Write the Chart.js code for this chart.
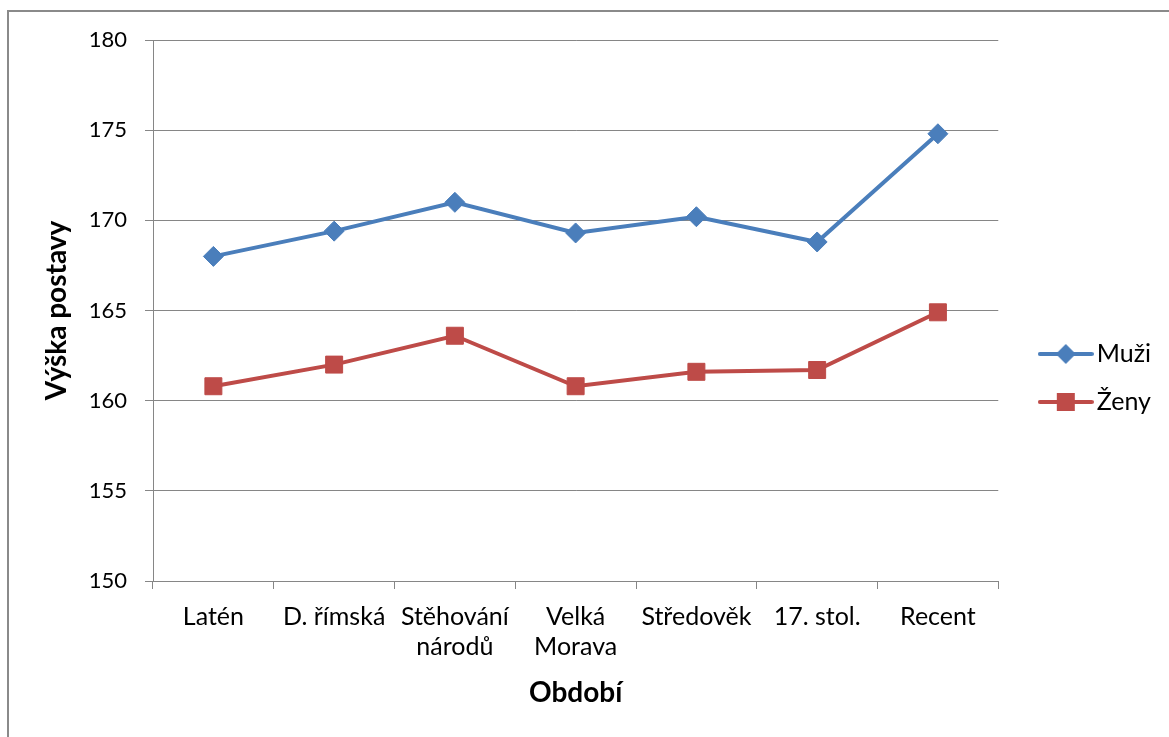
<!DOCTYPE html>
<html>
<head>
<meta charset="utf-8">
<script src="https://cdn.jsdelivr.net/npm/chart.js@4"></script>
<style>
  html, body { margin: 0; padding: 0; background: #fff; overflow: hidden; }
  #frame { position: absolute; left: 7px; top: 10px; width: 1300px; height: 900px;
           border-left: 2px solid #8a8a8a; border-top: 2px solid #8a8a8a; }
  #wrap { position: absolute; left: 0; top: 0; width: 1169px; height: 737px; }
</style>
</head>
<body>
<div id="frame"></div>
<div id="wrap"><canvas id="chart"></canvas></div>
<script>
// Data.
const obdobi = ["Latén", "D. římská", ["Stěhování", "národů"], ["Velká", "Morava"], "Středověk", "17. stol.", "Recent"];
const muzi = [168.0, 169.4, 171.0, 169.3, 170.2, 168.8, 174.8];
const zeny = [160.8, 162.0, 163.6, 160.8, 161.6, 161.7, 164.9];
const yTicks = [150, 155, 160, 165, 170, 175, 180];

const BLUE = '#4A7EBB';
const RED = '#BE4B48';
const GRID = '#868686';
const FONT = 'Lato, "Liberation Sans", sans-serif';

// small legend symbol: line with the marker on it
function legendSymbol(color, style){
    let c = document.createElement('canvas');
    c.width = 56; c.height = 24;
    let ctx = c.getContext('2d');
    ctx.strokeStyle = color;
    ctx.fillStyle = color;
    ctx.lineWidth = 4;
    ctx.lineCap = 'round';
    ctx.beginPath();
    ctx.moveTo(2, 12); ctx.lineTo(54, 12);
    ctx.stroke();
    ctx.beginPath();
    if (style === 'diamond') {
        ctx.moveTo(28, 2); ctx.lineTo(38, 12); ctx.lineTo(28, 22); ctx.lineTo(18, 12);
    } else {
        ctx.rect(19, 3, 18, 18);
    }
    ctx.closePath();
    ctx.fill();
    return c;
}
const symbols = [legendSymbol(BLUE, 'diamond'), legendSymbol(RED, 'square')];

let chart = new Chart(document.getElementById('chart'), {
    type: 'line',
    data: {
        labels: obdobi,
        datasets: [
            {label: "Muži",
            data: muzi,
            borderColor: BLUE,
            backgroundColor: BLUE,
            borderWidth: 4,
            pointStyle: 'rectRot',
            pointRadius: 10,
            pointHoverRadius: 10,
            pointBorderWidth: 1,
            tension: 0,
        },
            {label: "Ženy",
            data: zeny,
            borderColor: RED,
            backgroundColor: RED,
            borderWidth: 4,
            pointStyle: 'rect',
            pointRadius: 12,
            pointHoverRadius: 12,
            pointBorderWidth: 1,
            tension: 0,
        }]
    },
    options: {
        responsive: true,
        maintainAspectRatio: false,
        animation: false,
        events: [],
        layout: {padding: {left: 43, top: 40, right: 8, bottom: 21}},
        scales: {
            x: {
                offset: true,
                grid: {offset: true, drawOnChartArea: false, drawTicks: true, tickLength: 8, color: GRID},
                border: {color: GRID, width: 1},
                ticks: {color: '#000', font: {family: FONT, size: 25, lineHeight: 1.2}, padding: 13, maxRotation: 0, autoSkip: false},
                title: {display: true, text: 'Období', color: '#000', font: {family: FONT, size: 28, weight: 'bold', lineHeight: 1}, padding: {top: 0, bottom: 9}},
                afterFit: (s) => { s.height = 737 - 581 - 21; }
            },
            y: {
                min: 150,
                max: 180,
                afterBuildTicks: (s) => { s.ticks = yTicks.map(v => ({value: v})); },
                grid: {color: GRID, drawTicks: true, tickLength: 8},
                border: {color: GRID, width: 1},
                ticks: {color: '#000', font: {family: FONT, size: 22}, padding: 18},
                title: {display: true, text: 'Výška postavy', color: '#000', font: {family: FONT, size: 28, weight: 'bold', lineHeight: 1}, padding: 0},
                afterFit: (s) => { s.width = 153 - 43; }
            },
            // empty gap between plot area and legend
            gap: {
                type: 'linear',
                position: 'right',
                grid: {display: false},
                border: {display: false},
                ticks: {display: false},
                afterFit: (s) => { s.width = 26; }
            }
        },
        plugins: {
            legend: {
                position: 'right',
                labels: {
                    usePointStyle: true,
                    pointStyleWidth: 37,
                    color: '#000',
                    font: {family: FONT, size: 25},
                    padding: 23,
                    generateLabels: (ch) => {
                        let items = Chart.defaults.plugins.legend.labels.generateLabels(ch);
                        items.forEach((it, i) => { it.pointStyle = symbols[i]; });
                        return items;
                    }
                }
            },
            tooltip: {enabled: false}
        }
    }
});
</script>
</body>
</html>
